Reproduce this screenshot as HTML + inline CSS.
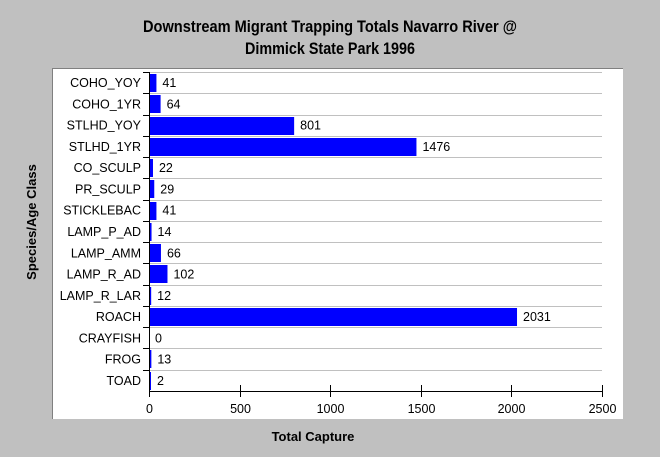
<!DOCTYPE html>
<html><head><meta charset="utf-8"><style>
body{margin:0;background:#c0c0c0;}
svg{display:block;font-family:"Liberation Sans",Arial,sans-serif;}
</style></head><body>
<svg id="chart" width="660" height="457">
<rect x="0" y="0" width="660" height="457" fill="#c0c0c0"/>
<text x="330" y="32" text-anchor="middle" font-size="17" font-weight="bold" textLength="374" lengthAdjust="spacingAndGlyphs">Downstream Migrant Trapping Totals Navarro River @</text>
<text x="330" y="54" text-anchor="middle" font-size="17" font-weight="bold" textLength="170" lengthAdjust="spacingAndGlyphs">Dimmick State Park 1996</text>
<rect x="52" y="68" width="571" height="351" fill="#fff"/>
<line x1="52" y1="68.5" x2="623" y2="68.5" stroke="#808080"/>
<line x1="52.5" y1="68" x2="52.5" y2="419" stroke="#808080"/>
<g id="grid"></g><g id="bars"></g><g id="axes"></g>
<text x="313" y="441" text-anchor="middle" font-size="13" font-weight="bold">Total Capture</text>
<text transform="translate(36,222) rotate(-90)" text-anchor="middle" font-size="13" font-weight="bold">Species/Age Class</text>
</svg>
<script>
const categories=["COHO_YOY","COHO_1YR","STLHD_YOY","STLHD_1YR","CO_SCULP","PR_SCULP","STICKLEBAC","LAMP_P_AD","LAMP_AMM","LAMP_R_AD","LAMP_R_LAR","ROACH","CRAYFISH","FROG","TOAD"];
const values=[41,64,801,1476,22,29,41,14,66,102,12,2031,0,13,2];
const xTicks=[0,500,1000,1500,2000,2500];
const NS="http://www.w3.org/2000/svg";
const X0=149,X1=602,Y0=72,Y1=391,XMAX=2500;
const rowH=(Y1-Y0)/categories.length;
const xs=v=>X0+(v/XMAX)*(X1-X0);
const ys=i=>Y0+i*rowH;
function mk(tag,attrs,parent,txt){const e=document.createElementNS(NS,tag);for(const k in attrs)e.setAttribute(k,attrs[k]);if(txt!==undefined)e.textContent=txt;parent.appendChild(e);return e;}
const grid=document.getElementById('grid'),bars=document.getElementById('bars'),axes=document.getElementById('axes');
for(let i=0;i<categories.length;i++){
  const y=Math.round(ys(i))+0.5;
  const g=mk('line',{x1:X0,y1:y,x2:X1,y2:y,stroke:'#c0c0c0'},grid);
  
  
  const t=mk('line',{x1:X0-6,y1:y,x2:X0,y2:y,stroke:'#000'},axes);
  
  
  const cy=ys(i)+rowH/2;
  const lab=mk('text',{x:X0-8,y:cy+4.5,'text-anchor':'end','font-size':'12.5'},axes,categories[i]);
  
  
  const by=Math.round(ys(i))+2,bh=Math.round(rowH)-3;
  const w=Math.max(xs(values[i])-X0,values[i]>0?2:0);
  const b=mk('rect',{x:X0,y:by,width:w,height:bh,fill:'#0000ff'},bars);
  
  
  const vl=mk('text',{x:X0+w+6,y:cy+4.5,'font-size':'12.5'},bars,String(values[i]));
  
  
}
const ya=mk('line',{x1:X0+0.5,y1:Y0,x2:X0+0.5,y2:Y1,stroke:'#000'},axes);


const xa=mk('line',{x1:X0,y1:Y1+0.5,x2:X1,y2:Y1+0.5,stroke:'#000'},axes);


xTicks.forEach(v=>{
  const x=Math.round(xs(v))+0.5;
  const t=mk('line',{x1:x,y1:Y1-6,x2:x,y2:Y1+6,stroke:'#000'},axes);
  
  
  const l=mk('text',{x:x,y:Y1+22,'text-anchor':'middle','font-size':'12.5'},axes,String(v));
  
  
});
</script>
</body></html>
